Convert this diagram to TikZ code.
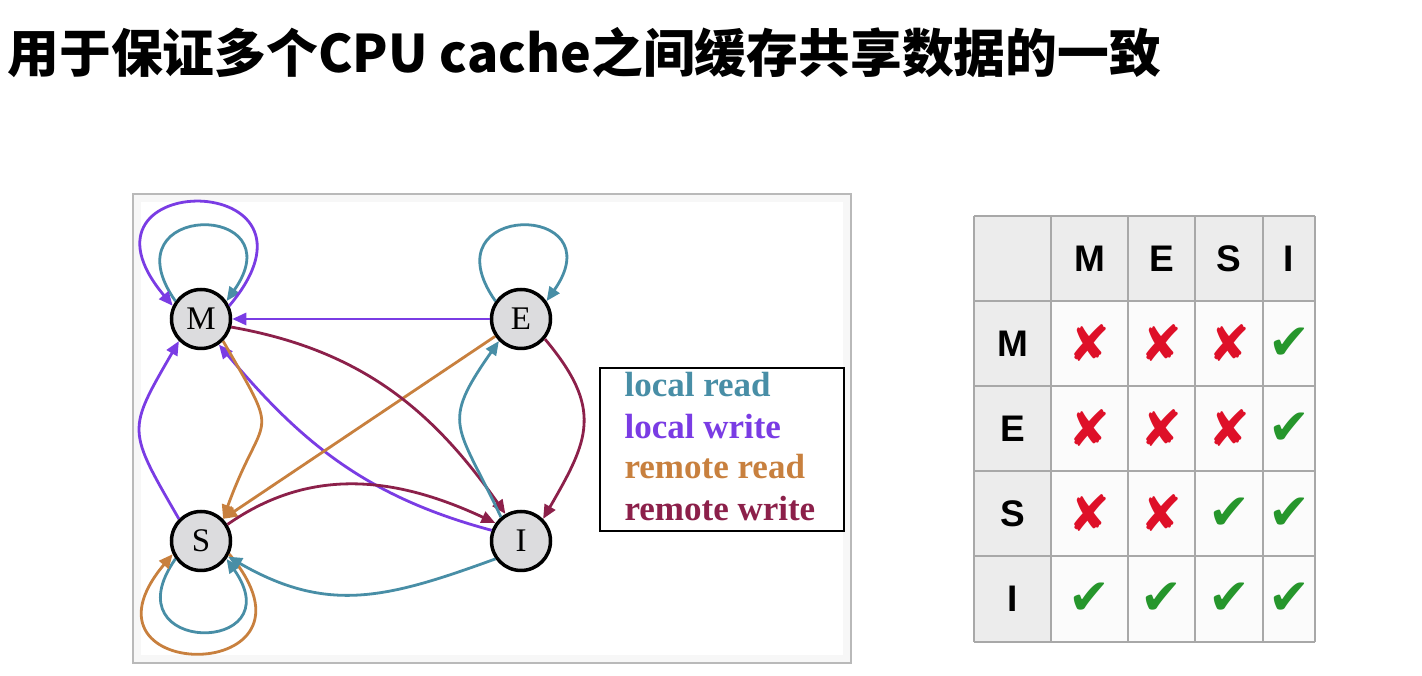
\documentclass[tikz,border=0pt]{standalone}
\usepackage{fontspec}
\setmainfont{Liberation Serif}
\newfontfamily\cjk{Noto Sans CJK SC}
\newfontfamily\symb{DejaVu Sans}
\newfontfamily\tabfont{Liberation Sans}
\usetikzlibrary{arrows.meta}
\definecolor{cRead}{RGB}{72,142,166}
\definecolor{cWrite}{RGB}{122,60,228}
\definecolor{cRRead}{RGB}{200,128,62}
\definecolor{cRWrite}{RGB}{140,32,74}
\definecolor{nodeGray}{RGB}{220,220,222}
\definecolor{cellGray}{RGB}{236,236,236}
\definecolor{gridGray}{RGB}{168,168,168}
\definecolor{markRed}{RGB}{222,16,40}
\definecolor{markGreen}{RGB}{38,150,44}
\tikzset{
  state/.style={circle, draw, line width=3.5pt, fill=nodeGray, minimum size=59pt,
    inner sep=0pt, font=\fontsize{33}{33}\selectfont},
  conn/.style={line width=2.8pt, -{Triangle[length=14pt,width=12pt]}},
  lread/.style={conn, cRead},
  lwrite/.style={conn, cWrite},
  rread/.style={conn, cRRead},
  rwrite/.style={conn, cRWrite},
  legend/.style={anchor=west, font=\bfseries\fontsize{35}{35}\selectfont},
  grid line/.style={gridGray, line width=2pt},
  hdr/.style={font=\tabfont\bfseries\fontsize{37}{37}\selectfont},
  mkx/.style={text=markRed, font=\symb\fontsize{50}{50}\selectfont},
  mkv/.style={text=markGreen, font=\symb\fontsize{50}{50}\selectfont}
}

\begin{document}
\begin{tikzpicture}[x=1pt,y=1pt]
\useasboundingbox (0,0) rectangle (1422,676);
% title
\node[anchor=west, font=\cjk\bfseries\fontsize{51.8}{56}\selectfont] (title) at (4,623)
  {用于保证多个CPU cache之间缓存共享数据的一致};
% diagram frame
\draw[gray!55, line width=1.5pt, fill=gray!6] (133,13) rectangle (851,482);
\fill[white] (141,21) rectangle (843,474);
% states
\node[state] (M) at (201,357) {M};
\node[state] (E) at (521,357) {E};
\node[state] (S) at (201,135) {S};
\node[state] (I) at (521,135) {I};
% self loops
\draw[lread] (M.145) to[out=125,in=55,distance=122] (M.35);
\draw[lwrite] (M.25) to[out=50,in=130,distance=180] (M.155);
\draw[lread] (E.145) to[out=125,in=55,distance=122] (E.35);
\draw[lread] (S.215) to[out=235,in=-55,distance=118] (S.-35);
\draw[rread] (S.-25) to[out=-50,in=230,distance=172] (S.205);
% local write
\draw[lwrite] (E) -- (M);
\draw[lwrite] (S.135) to[out=120,in=240,looseness=1.5] (M.225);
\draw[lwrite] (I.160) to[out=165,in=-50] (M.-55);
% remote read
\draw[rread] (M.-45) to[out=-60,in=70,distance=120] (S.45);
\draw[rread] (E) -- (S.45);
% remote write
\draw[rwrite] (M.-15) to[out=-10,in=125] (I.120);
\draw[rwrite] (E.-40) to[out=-50,in=60,looseness=1.3] (I.45);
\draw[rwrite] (S.32) to[out=35,in=155] (I.145);
% local read
\draw[lread] (I.130) to[out=115,in=235,looseness=1.5] (E.225);
\draw[lread] (I.215) to[out=200,in=-30,looseness=1.1] (S.-30);
% legend
\draw[line width=1.3pt] (600,145) rectangle (844,308);
\node[legend, text=cRead] (lg-read) at (621,291) {local read};
\node[legend, text=cWrite] (lg-write) at (621,249) {local write};
\node[legend, text=cRRead] (lg-rread) at (621,209) {remote read};
\node[legend, text=cRWrite] (lg-rwrite) at (621,167) {remote write};
% compatibility table
\fill[cellGray] (974,34) rectangle (1315,460);
\fill[white!97!gray] (1051,34) rectangle (1315,375);
\foreach \x in {974,1051,1128,1195,1263,1315}
  \draw[grid line] (\x,34) -- (\x,460);
\foreach \y in {34,120,205,290,375,460}
  \draw[grid line] (974,\y) -- (1315,\y);
\foreach \s/\cx in {M/1089.5,E/1161.5,S/1229,I/1289}
  \node[hdr] (col-\s) at (\cx,417.5) {\s};
\foreach \s/\cy/\marks in {M/332.5/{x,x,x,v},E/247.5/{x,x,x,v},S/162.5/{x,x,v,v},I/77/{v,v,v,v}}{
  \node[hdr] (row-\s) at (1012.5,\cy) {\s};
  \foreach \m [count=\c] in \marks {
    \pgfmathsetmacro\cx{{1089.5,1161.5,1229,1289}[\c-1]}
    \node[mk\m] (mk-\s-\c) at (\cx,\cy) {\if x\m ✘\else ✔\fi};
  }
}
\end{tikzpicture}
\end{document}
